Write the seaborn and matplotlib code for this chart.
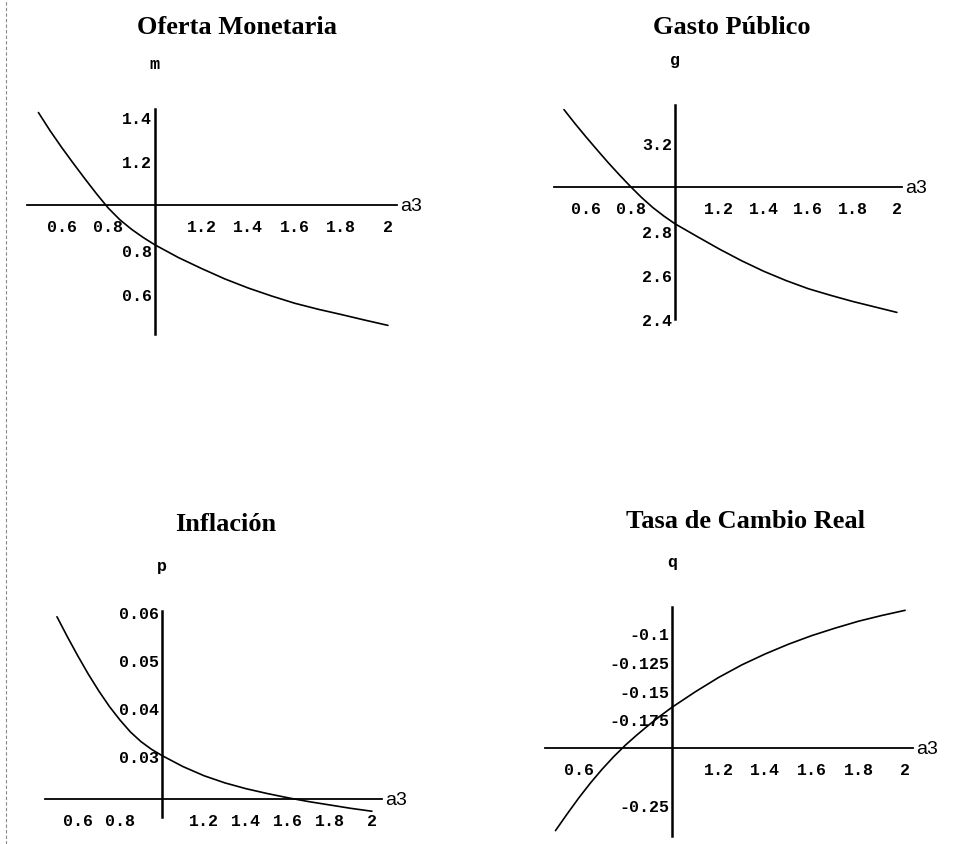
import numpy as np
import pandas as pd
import seaborn as sns
import matplotlib.pyplot as plt
from matplotlib.lines import Line2D

# valores (a3 de 0.5 a 2)
a3 = [0.5, 0.55, 0.6, 0.65, 0.7, 0.75, 0.8, 0.85, 0.9, 0.95, 1.0,
      1.1, 1.2, 1.3, 1.4, 1.5, 1.6, 1.7, 1.8, 1.9, 2.0]

oferta_m = [1.42, 1.338, 1.262, 1.19, 1.12, 1.052, 0.988, 0.935, 0.892, 0.855, 0.822,
            0.765, 0.715, 0.668, 0.627, 0.591, 0.558, 0.531, 0.507, 0.482, 0.458]

gasto_g = [3.352, 3.288, 3.227, 3.168, 3.11, 3.055, 3.002, 2.952, 2.907, 2.868, 2.833,
           2.775, 2.718, 2.665, 2.617, 2.575, 2.538, 2.508, 2.48, 2.455, 2.43]

inflacion_p = [0.0590, 0.0548, 0.0508, 0.0470, 0.0435, 0.0403, 0.0375, 0.0350, 0.0330, 0.0314, 0.0301,
               0.0278, 0.0259, 0.0244, 0.0232, 0.0222, 0.0213, 0.0205, 0.0198, 0.0191, 0.0185]

cambio_q = [-0.272, -0.2575, -0.2435, -0.2305, -0.2185, -0.2075, -0.1975, -0.1885, -0.180, -0.172, -0.1645,
            -0.151, -0.1385, -0.1275, -0.118, -0.1095, -0.102, -0.0955, -0.0895, -0.0845, -0.080]

titulos = ['Oferta Monetaria', 'Gasto Público', 'Inflación', 'Tasa de Cambio Real']
variables = ['m', 'g', 'p', 'q']

xticks_1 = [0.6, 0.8, 1.2, 1.4, 1.6, 1.8, 2]
xticks_4 = [0.6, 1.2, 1.4, 1.6, 1.8, 2]
yticks_m = [0.6, 0.8, 1.2, 1.4]
yticks_g = [2.4, 2.6, 2.8, 3.2]
yticks_p = [0.03, 0.04, 0.05, 0.06]
yticks_q = [-0.25, -0.175, -0.15, -0.125, -0.1]

sns.set_theme(style='white')
plt.rcParams['font.family'] = ['Liberation Serif', 'DejaVu Serif']

W, H = 955, 845
fig = plt.figure(figsize=(W / 100, H / 100), dpi=100)

# cajas en píxeles: izquierda, derecha, arriba, abajo
cajas = [(27, 397, 110, 335), (554, 902, 106, 320), (45, 382, 612, 818), (545, 913, 608, 837)]
xlims = [(0.451, 2.039), (0.455, 2.023), (0.443, 2.048), (0.455, 2.034)]
ylims = [(0.419, 1.436), (2.40, 3.373), (0.0173, 0.0602), (-0.2767, -0.0771)]
origen_y = [1.0, 3.0, 0.021, -0.2]
series = [oferta_m, gasto_g, inflacion_p, cambio_q]
xticks = [xticks_1, xticks_1, xticks_1, xticks_4]
yticks = [yticks_m, yticks_g, yticks_p, yticks_q]
titulo_pos = [(237, 27), (732, 27), (226, 525), (746, 521)]

mono = ['Liberation Mono', 'DejaVu Sans Mono']

for i in range(4):
    l, r, t, b = cajas[i]
    ax = fig.add_axes([l / W, 1 - b / H, (r - l) / W, (b - t) / H])
    df = pd.DataFrame({'a3': a3, 'y': series[i]})
    sns.lineplot(data=df, x='a3', y='y', ax=ax, color='black', linewidth=1.2)
    ax.set_xlim(*xlims[i])
    ax.set_ylim(*ylims[i])
    ax.patch.set_alpha(0)
    ax.spines['top'].set_visible(False)
    ax.spines['right'].set_visible(False)
    ax.spines['left'].set_position(('data', 1))
    ax.spines['bottom'].set_position(('data', origen_y[i]))
    ax.spines['left'].set_linewidth(1.8)
    ax.spines['bottom'].set_linewidth(1.3)
    ax.spines['left'].set_color('black')
    ax.spines['bottom'].set_color('black')
    ax.set_xlabel('')
    ax.set_ylabel('')
    ax.set_xticks(xticks[i])
    ax.set_xticklabels(['%g' % v for v in xticks[i]], fontfamily=mono,
                       fontweight='bold', fontsize=12)
    ax.set_yticks(yticks[i])
    ax.set_yticklabels(['%g' % v for v in yticks[i]], fontfamily=mono,
                       fontweight='bold', fontsize=12)
    ax.tick_params(axis='x', length=2, width=0.8, direction='in', pad=10, colors='black')
    ax.tick_params(axis='y', length=2, width=0.8, direction='in', pad=2, colors='black')
    ax.grid(False)

    ax.annotate('a3', xy=(xlims[i][1], origen_y[i]), xycoords='data',
                xytext=(2, 0), textcoords='offset points', ha='left', va='center',
                fontsize=14, fontfamily=['Liberation Sans', 'DejaVu Sans'], color='black')
    ax.annotate(variables[i], xy=(1, ylims[i][1]), xycoords='data',
                xytext=(0, 33), textcoords='offset points', ha='center', va='center',
                fontsize=12, fontfamily=mono, fontweight='bold', color='black')

    tx, ty = titulo_pos[i]
    fig.text(tx / W, 1 - ty / H, titulos[i], ha='center', va='center',
             fontsize=19, fontweight='bold', color='black')

# borde punteado del escaneo a la izquierda
fig.add_artist(Line2D([6 / W, 6 / W], [0, 1], transform=fig.transFigure,
                      color='#888888', linewidth=0.8, linestyle=(0, (3, 2))))

fig.savefig('out.png', dpi=100, facecolor='white')
